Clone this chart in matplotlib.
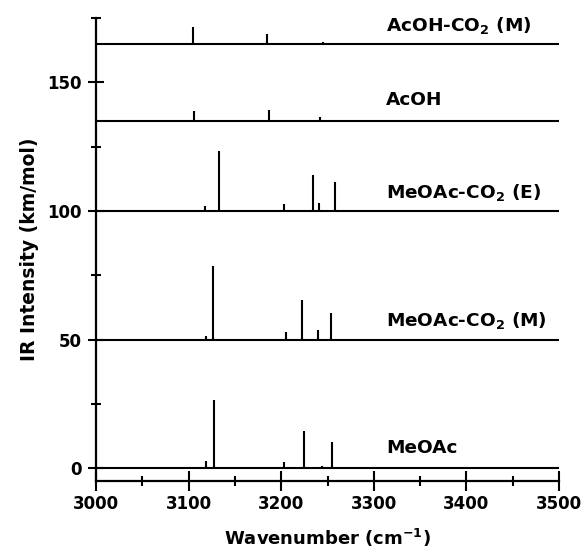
import numpy as np
import matplotlib
matplotlib.use("Agg")
import matplotlib.pyplot as plt
from matplotlib.ticker import MultipleLocator

# stick spectra: wavenumber (cm-1) and intensity (km/mol), each on its own offset baseline
names = ["MeOAc", "MeOAc-CO$_2$ (M)", "MeOAc-CO$_2$ (E)", "AcOH", "AcOH-CO$_2$ (M)"]
offsets = [0, 50, 100, 135, 165]

meoac_wn = [3119, 3127.5, 3203, 3225, 3244, 3255]
meoac_int = [2.6, 26.5, 2.5, 14.4, 1.0, 10.1]

meoac_co2_m_wn = [3119, 3126, 3205, 3223, 3240, 3254]
meoac_co2_m_int = [1.4, 28.6, 2.8, 15.2, 3.6, 10.5]

meoac_co2_e_wn = [3118, 3133, 3203, 3234, 3241, 3258]
meoac_co2_e_int = [1.8, 23.3, 2.5, 13.9, 3.0, 11.4]

acoh_wn = [3106, 3187, 3242]
acoh_int = [3.9, 4.3, 1.5]

acoh_co2_m_wn = [3105, 3185, 3245]
acoh_co2_m_int = [6.5, 3.7, 0.8]

spectra = [
    (meoac_wn, meoac_int),
    (meoac_co2_m_wn, meoac_co2_m_int),
    (meoac_co2_e_wn, meoac_co2_e_int),
    (acoh_wn, acoh_int),
    (acoh_co2_m_wn, acoh_co2_m_int),
]

# label anchor (left x, centre y) in data units
label_x = 3313
label_y = [8, 57.5, 107, 143, 172]

plt.rcParams["font.family"] = "DejaVu Sans"
plt.rcParams["font.weight"] = "bold"
plt.rcParams["mathtext.default"] = "bf"

fig = plt.figure(figsize=(5.84, 5.59), dpi=100)
ax = fig.add_axes([96 / 584, 1 - 481 / 559, 463 / 584, 463 / 559])

for (wn, inten), base in zip(spectra, offsets):
    ax.hlines(base, 3000, 3500, color="black", lw=1.5)
    ax.vlines(wn, base, base + np.array(inten), color="black", lw=1.5)

for name, y in zip(names, label_y):
    ax.text(label_x, y, name, fontsize=13.3, fontweight="bold", va="center", ha="left")

ax.set_xlim(3000, 3500)
ax.set_ylim(-5, 175)
ax.spines["top"].set_visible(False)
ax.spines["right"].set_visible(False)
ax.spines["left"].set_linewidth(1.6)
ax.spines["bottom"].set_linewidth(1.6)

ax.xaxis.set_major_locator(MultipleLocator(100))
ax.xaxis.set_minor_locator(MultipleLocator(50))
ax.set_yticks([0, 50, 100, 150])
ax.set_yticks([25, 75, 125, 175], minor=True)

ax.tick_params(axis="x", which="major", direction="inout", length=14, width=1.5,
               labelsize=12, pad=3)
ax.tick_params(axis="x", which="minor", direction="inout", length=7, width=1.5)
ax.tick_params(axis="y", which="major", direction="inout", length=11, width=1.5,
               labelsize=12, pad=5)
ax.tick_params(axis="y", which="minor", direction="inout", length=7, width=1.5)
for lab in ax.get_xticklabels() + ax.get_yticklabels():
    lab.set_fontweight("bold")

ax.set_xlabel("Wavenumber (cm$^{-1}$)", fontsize=13, fontweight="bold", labelpad=10)
ax.set_ylabel("IR Intensity (km/mol)", fontsize=13.5, fontweight="bold", labelpad=6)

fig.savefig("out.png", dpi=100)
